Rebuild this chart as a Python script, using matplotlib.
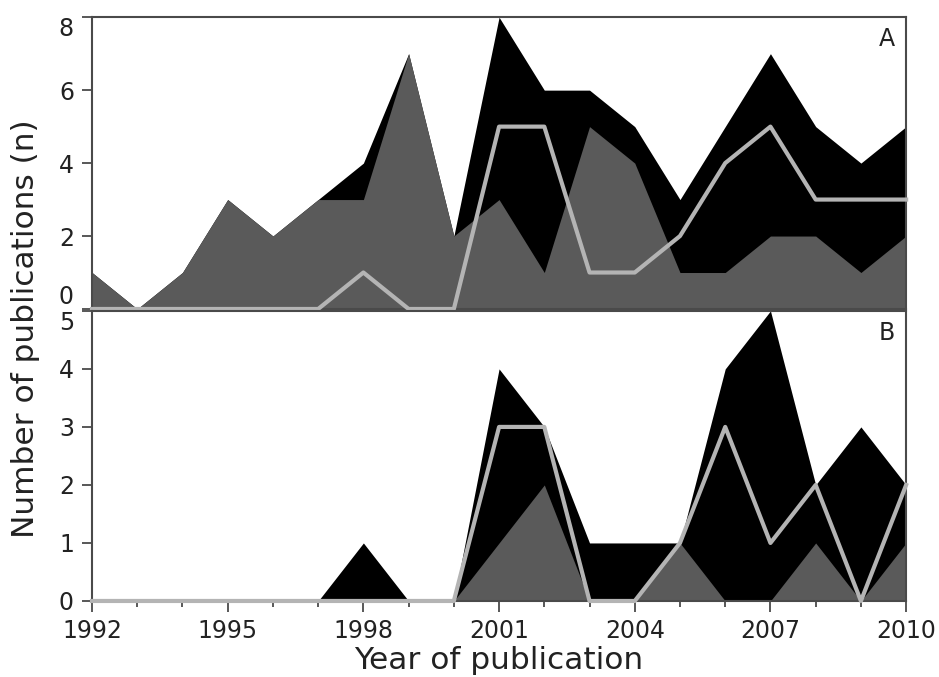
import numpy as np
import matplotlib.pyplot as plt

years = np.arange(1992, 2011)

# panel A
a_total = [1, 0, 1, 3, 2, 3, 4, 7, 2, 8, 6, 6, 5, 3, 5, 7, 5, 4, 5]
a_part = [1, 0, 1, 3, 2, 3, 3, 7, 2, 3, 1, 5, 4, 1, 1, 2, 2, 1, 2]
a_line = [0, 0, 0, 0, 0, 0, 1, 0, 0, 5, 5, 1, 1, 2, 4, 5, 3, 3, 3]

# panel B
b_total = [0, 0, 0, 0, 0, 0, 1, 0, 0, 4, 3, 1, 1, 1, 4, 5, 2, 3, 2]
b_part = [0, 0, 0, 0, 0, 0, 0, 0, 0, 1, 2, 0, 0, 1, 0, 0, 1, 0, 1]
b_line = [0, 0, 0, 0, 0, 0, 0, 0, 0, 3, 3, 0, 0, 1, 3, 1, 2, 0, 2]

xticks = [1992, 1995, 1998, 2001, 2004, 2007, 2010]

spine_col = '#4a4a4a'
gray = '#5a5a5a'
light = '#b4b4b4'
txt = '#222222'

fig = plt.figure(figsize=(9.39, 6.77), dpi=100)
axA = fig.add_axes([0.098, 0.5436, 0.867, 0.431])
axB = fig.add_axes([0.098, 0.1123, 0.867, 0.4285])

for ax, tot, part, line, top, yt, letter in [
        (axA, a_total, a_part, a_line, 8, [0, 2, 4, 6, 8], 'A'),
        (axB, b_total, b_part, b_line, 5, [0, 1, 2, 3, 4, 5], 'B')]:
    ax.fill_between(years, 0, tot, color='black', lw=0)
    ax.fill_between(years, 0, part, color=gray, lw=0)
    ax.plot(years, line, color=light, lw=3, clip_on=False, zorder=3)
    ax.set_xlim(1992, 2010)
    ax.set_ylim(0, top)
    ax.set_yticks(yt)
    ax.set_xticks(xticks)
    ax.set_xticks(years, minor=True)
    for s in ax.spines.values():
        s.set_color(spine_col)
        s.set_linewidth(1.5)
    ax.tick_params(axis='y', direction='out', length=7, width=1.3, color=spine_col,
                   labelsize=17, labelcolor=txt, pad=6)
    ax.tick_params(axis='x', which='major', direction='out', length=8, width=1.3,
                   color=spine_col, labelsize=17, labelcolor=txt, pad=5)
    ax.tick_params(axis='x', which='minor', direction='out', length=4, width=1.3,
                   color=spine_col)
    ax.text(0.986, 0.965, letter, transform=ax.transAxes, ha='right', va='top',
            fontsize=17, color=txt)

axA.tick_params(axis='x', which='both', bottom=False, labelbottom=False)

# keep the 0 of A and the 5 of B apart, as in the original
ticksA = axA.yaxis.get_major_ticks()
ticksA[0].label1.set_va('bottom')
ticksA[-1].label1.set_va('top')
ticksB = axB.yaxis.get_major_ticks()
ticksB[-1].label1.set_va('top')

axB.set_xlabel('Year of publication', fontsize=22.5, labelpad=2, color=txt)
fig.text(0.027, 0.514, 'Number of publications (n)', rotation=90, ha='center',
         va='center', fontsize=22.5, color=txt)

fig.savefig('out.png', dpi=100)
